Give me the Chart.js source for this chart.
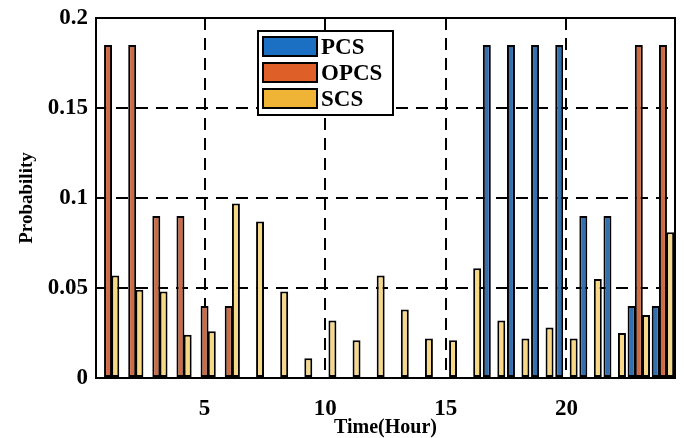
<!DOCTYPE html>
<html>
<head>
<meta charset="utf-8">
<script src="https://cdn.jsdelivr.net/npm/chart.js@4"></script>
<style>
  html, body { margin: 0; padding: 0; background: #fff; }
  #wrap { width: 684px; height: 438px; }
</style>
</head>
<body>
<div id="wrap"><canvas id="chart" width="684" height="438"></canvas></div>
<script>
const hours = ['1','2','3','4','5','6','7','8','9','10','11','12','13','14','15','16','17','18','19','20','21','22','23','24'];
const pcs  = [0, 0, 0, 0, 0, 0, 0, 0, 0, 0, 0, 0, 0, 0, 0, 0, 0.185, 0.185, 0.185, 0.185, 0.09, 0.09, 0.04, 0.04];
const opcs = [0.185, 0.185, 0.09, 0.09, 0.04, 0.04, 0, 0, 0, 0, 0, 0, 0, 0, 0, 0, 0, 0, 0, 0, 0, 0, 0.185, 0.185];
const scs  = [0.057, 0.049, 0.048, 0.024, 0.026, 0.097, 0.087, 0.048, 0.011, 0.032, 0.021, 0.057, 0.038, 0.022, 0.021, 0.061, 0.032, 0.022, 0.028, 0.022, 0.055, 0.025, 0.035, 0.081];
const xTickLabels = ['5', '10', '15', '20'];
const yTicks = [0, 0.05, 0.1, 0.15, 0.2];

const font = 'Liberation Serif';

// legend box drawn inside the plot, MATLAB style
const boxLegend = {
    id: 'boxLegend',
    afterDraw(chart) {
        const ctx = chart.ctx;
        const x0 = 258, y0 = 31, w = 135, h = 84;
        ctx.save();
        ctx.fillStyle = '#fff';
        ctx.fillRect(x0, y0, w, h);
        ctx.lineWidth = 2;
        ctx.strokeStyle = '#000';
        ctx.strokeRect(x0, y0, w, h);
        chart.data.datasets.forEach((ds, i) => {
            const y = y0 + 6 + i * 26;
            ctx.fillStyle = ds.legendColor;
            ctx.fillRect(x0 + 5, y, 54, 19);
            ctx.strokeRect(x0 + 5, y, 54, 19);
            ctx.fillStyle = '#000';
            ctx.font = 'bold 23px ' + font;
            ctx.textBaseline = 'middle';
            ctx.textAlign = 'left';
            ctx.fillText(ds.label, x0 + 63, y + 11);
        });
        ctx.restore();
    }
};

// solid axes box
const frame = {
    id: 'frame',
    afterDatasetsDraw(chart) {
        const a = chart.chartArea;
        const ctx = chart.ctx;
        ctx.save();
        ctx.lineWidth = 2;
        ctx.strokeStyle = '#000';
        ctx.strokeRect(a.left, a.top, a.right - a.left, a.bottom - a.top);
        ctx.restore();
    }
};

new Chart(document.getElementById('chart'), {
    type: 'bar',
    data: {
        labels: hours,
        datasets: [
            { label: 'PCS', data: pcs, backgroundColor: '#356fae', legendColor: '#1c70c4', borderColor: '#000', borderWidth: 2 },
            { label: 'OPCS', data: opcs, backgroundColor: '#cf6a43', legendColor: '#df5f28', borderColor: '#000', borderWidth: 2 },
            { label: 'SCS', data: scs, backgroundColor: '#f7d886', legendColor: '#efb436', borderColor: '#000', borderWidth: 2 }
        ]
    },
    options: {
        responsive: false,
        animation: false,
        layout: { padding: { top: 18, right: 9, left: 0, bottom: 0 } },
        plugins: {
            legend: { display: false },
            tooltip: { enabled: false }
        },
        datasets: {
            bar: { categoryPercentage: 0.9, barPercentage: 1.1, borderSkipped: false }
        },
        scales: {
            x: {
                type: 'category',
                afterFit: s => { s.height = 60; s.paddingLeft = 0; s.paddingRight = 0; },
                grid: {
                    offset: false,
                    drawTicks: false,
                    lineWidth: 2,
                    color: c => (c.tick && xTickLabels.includes(c.tick.label)) ? '#000' : 'rgba(0,0,0,0)'
                },
                border: { display: false, dash: [12, 8] },
                ticks: {
                    autoSkip: false,
                    maxRotation: 0,
                    padding: 17,
                    color: '#000',
                    font: { family: font, size: 23, weight: 'bold' },
                    callback: function (v, i) {
                        const l = this.getLabelForValue(v);
                        return xTickLabels.includes(l) ? l : '';
                    }
                },
                title: {
                    display: true,
                    text: 'Time(Hour)',
                    color: '#000',
                    padding: { top: 0, bottom: -2 },
                    font: { family: font, size: 20, weight: 'bold' }
                }
            },
            y: {
                min: 0,
                max: 0.2,
                afterFit: s => { s.width = 96; s.paddingTop = 0; s.paddingBottom = 0; },
                afterBuildTicks: s => { s.ticks = yTicks.map(v => ({ value: v })); },
                grid: {
                    drawTicks: false,
                    lineWidth: 2,
                    color: c => (c.tick && c.tick.value > 0 && c.tick.value < 0.2) ? '#000' : 'rgba(0,0,0,0)'
                },
                border: { display: false, dash: [12, 8] },
                ticks: {
                    padding: 8,
                    color: '#000',
                    font: { family: font, size: 23, weight: 'bold' },
                    callback: v => String(+v.toFixed(2))
                },
                title: {
                    display: true,
                    text: 'Probability',
                    color: '#000',
                    padding: { top: 16, bottom: 0 },
                    font: { family: font, size: 19, weight: 'bold' }
                }
            }
        }
    },
    plugins: [frame, boxLegend]
});
</script>
</body>
</html>
